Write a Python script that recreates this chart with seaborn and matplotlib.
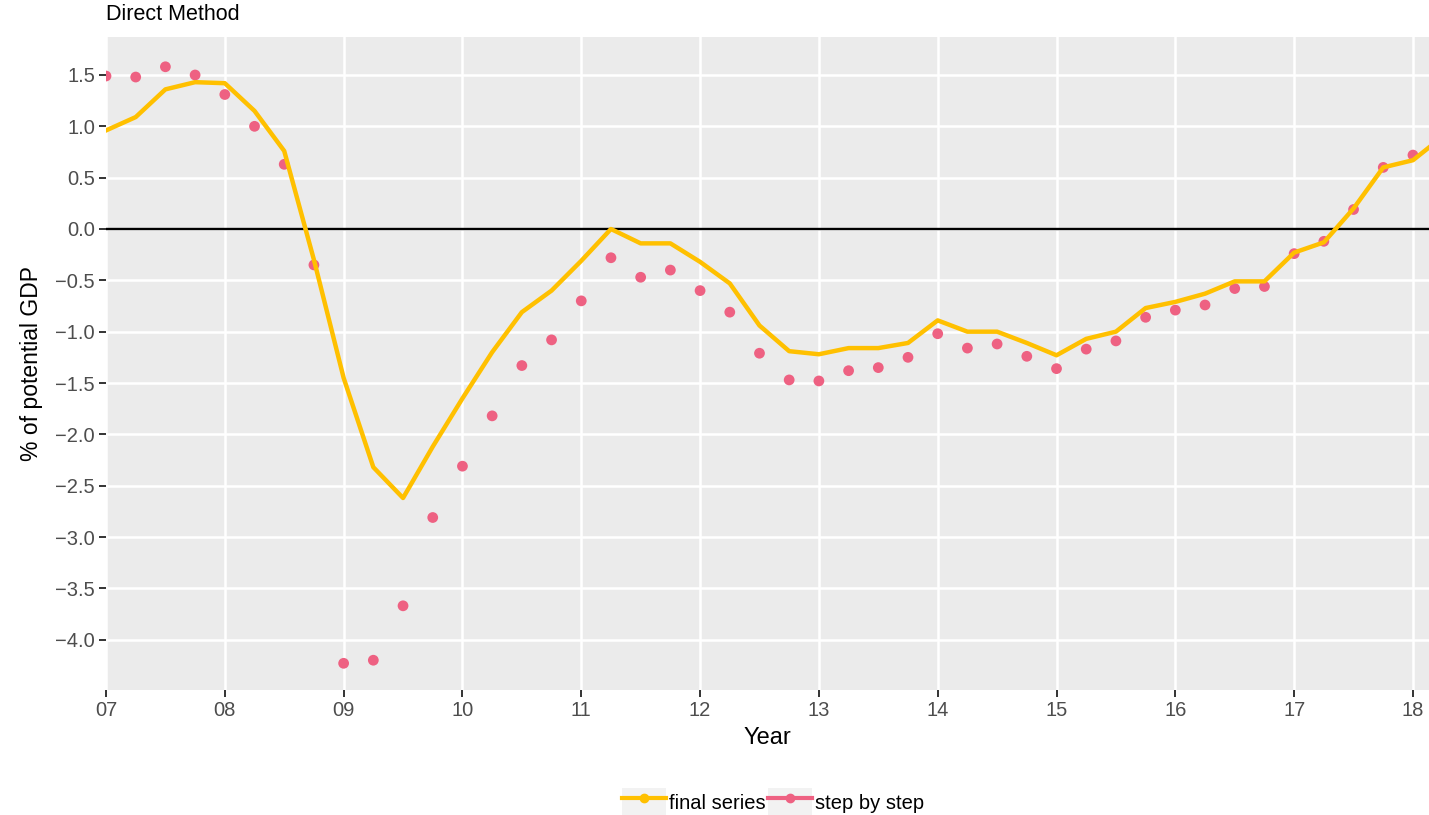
import numpy as np
import pandas as pd
import matplotlib
matplotlib.use("Agg")
import matplotlib.pyplot as plt
from matplotlib.lines import Line2D
from matplotlib.patches import Patch
import seaborn as sns

# Quarterly data, 2007Q1 .. 2018Q2 (years written as 7.00 = 2007)
anio = np.arange(7.0, 18.26, 0.25)

final_series = [0.96, 1.09, 1.36, 1.43, 1.42, 1.15, 0.76, -0.30,
                -1.45, -2.32, -2.62, -2.12, -1.65, -1.20, -0.81, -0.60,
                -0.31, 0.00, -0.14, -0.14, -0.32, -0.53, -0.94, -1.19,
                -1.22, -1.16, -1.16, -1.11, -0.89, -1.00, -1.00, -1.11,
                -1.23, -1.07, -1.00, -0.77, -0.71, -0.63, -0.51, -0.51,
                -0.23, -0.13, 0.20, 0.60, 0.67, 0.90]

step_by_step = [1.49, 1.48, 1.58, 1.50, 1.31, 1.00, 0.63, -0.35,
                -4.23, -4.20, -3.67, -2.81, -2.31, -1.82, -1.33, -1.08,
                -0.70, -0.28, -0.47, -0.40, -0.60, -0.81, -1.21, -1.47,
                -1.48, -1.38, -1.35, -1.25, -1.02, -1.16, -1.12, -1.24,
                -1.36, -1.17, -1.09, -0.86, -0.79, -0.74, -0.58, -0.56,
                -0.24, -0.12, 0.19, 0.60, 0.72, np.nan]

etiquetas_x = ["07", "08", "09", "10", "11", "12", "13", "14", "15", "16", "17", "18"]
ticks_y = np.arange(-4.0, 1.51, 0.5)

color_final = "#FFC000"
color_step = "#EE6182"

df = pd.DataFrame({"anio": anio, "final": final_series, "step": step_by_step})

plt.rcParams["font.family"] = ["Liberation Sans", "DejaVu Sans"]

fig = plt.figure(figsize=(14.29, 8.15), dpi=100)
ax = fig.add_axes([106 / 1429, 1 - 690 / 815, 1 - 106 / 1429, (690 - 37) / 815])
ax.set_facecolor("#EBEBEB")

# ==========================
# Series
# ==========================
ax.axhline(0, color="black", lw=1.7, zorder=2)
sns.scatterplot(data=df, x="anio", y="step", ax=ax, color=color_step,
                s=60, edgecolor="none", zorder=3, legend=False)
sns.lineplot(data=df, x="anio", y="final", ax=ax, color=color_final,
             lw=3.2, zorder=4, legend=False)

# ==========================
# Ejes
# ==========================
ax.set_xlim(7.0, 18.135)
ax.set_ylim(-4.49, 1.87)
ax.set_xticks(np.arange(7, 19))
ax.set_xticklabels(etiquetas_x)
ax.set_yticks(ticks_y)
ax.set_yticklabels([f"{v:.1f}".replace("-", "\u2212") for v in ticks_y])
ax.grid(True, color="white", lw=1.8)
ax.set_axisbelow(True)
for s in ax.spines.values():
    s.set_visible(False)
ax.tick_params(axis="both", length=5, width=1.4, color="#333333",
               labelsize=14.5, labelcolor="#4D4D4D", pad=3)

ax.set_xlabel("Year", fontsize=17, labelpad=5)
ax.set_ylabel("% of potential GDP", fontsize=16.5, labelpad=9)
fig.text(106 / 1429, 1 - 14 / 815, "Direct Method", fontsize=15.5,
         ha="left", va="center")

# ==========================
# Leyenda
# ==========================
fondo = Patch(facecolor="#F2F2F2", edgecolor="none")
handles = [
    (fondo, Line2D([0], [0], color=color_final, lw=3, marker="o", markersize=6)),
    (fondo, Line2D([0], [0], color=color_step, lw=3, marker="o", markersize=6)),
]
fig.legend(handles, ["final series", "step by step"], loc="center",
           bbox_to_anchor=(773 / 1429, 1 - 802 / 815), ncol=2, frameon=False,
           fontsize=14.5, handlelength=2.2, handleheight=1.7,
           handletextpad=0.15, columnspacing=0.1)

fig.savefig("out.png", dpi=100)
plt.close(fig)
